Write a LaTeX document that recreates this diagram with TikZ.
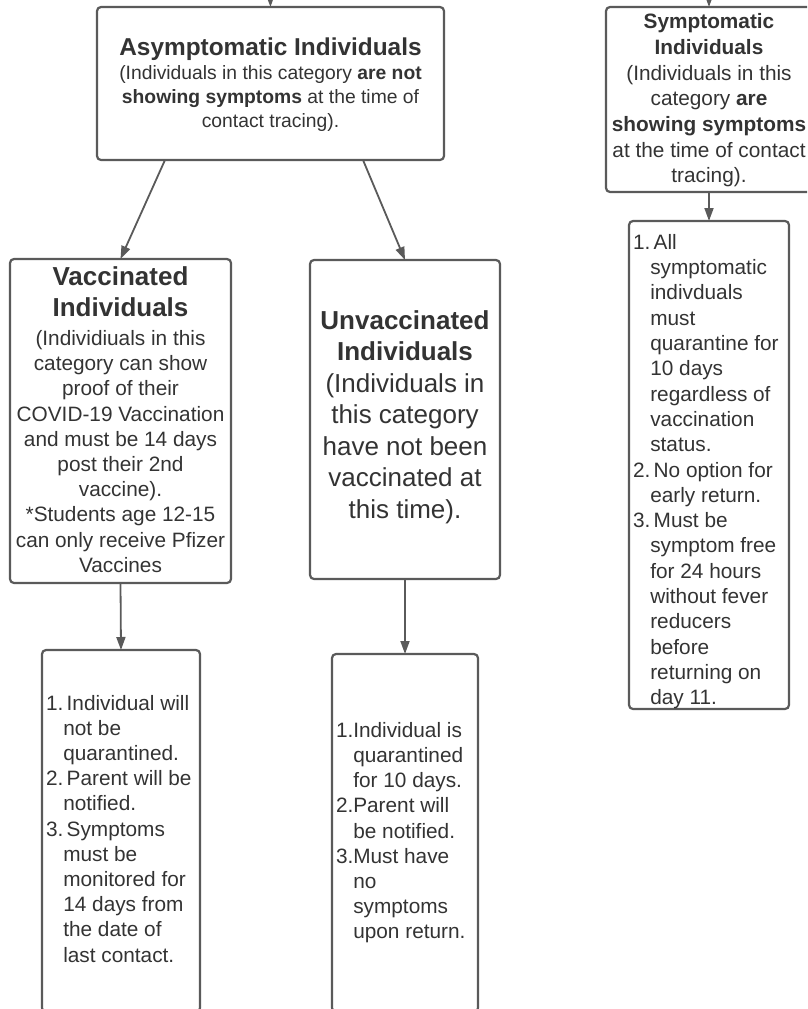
\documentclass[tikz,border=0pt]{standalone}
\usepackage{fontspec}
\setmainfont{Liberation Sans}
\usepackage{xcolor}
\usepackage{tikz}
\usetikzlibrary{arrows.meta}
\definecolor{lineGray}{HTML}{5A5A5A}
\definecolor{textGray}{HTML}{333333}
\newcommand{\plainSpace}{\spaceskip=\fontdimen2\font\xspaceskip=0pt\relax}
\newcommand{\titleSize}{\fontsize{26pt}{31pt}\selectfont\bfseries\plainSpace}
\newcommand{\bodySize}{\fontsize{20.8pt}{25.2pt}\selectfont\plainSpace}
\newcommand{\bottomPad}[1]{\par\kern#1\relax}
\newcommand{\numberWidth}{17.3pt}
\newcommand{\firstGap}{\hspace{3.4pt}}
\begin{document}
\begin{tikzpicture}[x=1pt, y=-1pt,
	box/.style={draw=lineGray, line width=2.2pt, rounded corners=4pt, text=textGray, inner sep=1pt, outer sep=0pt, align=center},
	listbox/.style={box, align=left, inner xsep=4pt, font=\bodySize},
	link/.style={draw=lineGray, line width=1.8pt, -{Triangle[length=13pt,width=9pt]}}
	]
	\useasboundingbox (0,0) rectangle (807,1009);
	\clip (0,0) rectangle (807,1009);

		% category boxes
		\node[box, minimum width=347pt, minimum height=153pt, text width=343pt] (asym) at (270.5,83.5) {{\fontsize{24.4pt}{29pt}\selectfont\bfseries\plainSpace Asymptomatic Individuals\par}\fontsize{19.3pt}{24pt}\selectfont\plainSpace (Individuals in this category \textbf{are not}\\ \textbf{showing symptoms} at the time of\\ contact tracing).\bottomPad{-2.6pt}};
		\node[box, minimum width=206pt, minimum height=185pt, text width=202pt, font=\fontsize{20.8pt}{25.7pt}\selectfont] (sym) at (709,99.5) {\plainSpace\textbf{Symptomatic}\\ \textbf{Individuals}\\ (Individuals in this\\ category \textbf{are}\\ \textbf{showing symptoms}\\ at the time of contact\\ tracing).\bottomPad{-2pt}};
		\node[box, minimum width=221pt, minimum height=324pt, text width=217pt] (vac) at (120.5,421) {{\titleSize Vaccinated\\ Individuals\par}\vspace{3.5pt}\bodySize (Individiuals in this\\ category can show\\ proof of their\\ COVID-19 Vaccination\\ and must be 14 days\\ post their 2nd\\ vaccine).\\ {*}Students age 12-15\\ can only receive Pfizer\\ Vaccines\bottomPad{2.6pt}};
		\node[box, minimum width=190pt, minimum height=319pt, text width=186pt, font=\fontsize{26pt}{31.5pt}\selectfont] (unvac) at (405,419.5) {\plainSpace\textbf{Unvaccinated}\\ \textbf{Individuals}\\ (Individuals in\\ this category\\ have not been\\ vaccinated at\\ this time).\bottomPad{5pt}};

		% rule lists
		\node[listbox, minimum width=158pt, minimum height=362pt, text width=150pt] (vacRules) at (121,831) {\plainSpace\begin{tabular}{@{}p{\numberWidth}@{}l@{}}
			1. & \firstGap Individual will\\
			& not be\\
			& quarantined.\\
			2. & \firstGap Parent will be\\
			& notified.\\
			3. & \firstGap Symptoms\\
			& must be\\
			& monitored for\\
			& 14 days from\\
			& the date of\\
			& last contact.
		\end{tabular}};
		\node[listbox, minimum width=146pt, minimum height=358pt, text width=138pt] (unvacRules) at (405,833) {\plainSpace\begin{tabular}{@{}p{\numberWidth}@{}l@{}}
			1. & Individual is\\
			& quarantined\\
			& for 10 days.\\
			2. & Parent will\\
			& be notified.\\
			3. & Must have\\
			& no\\
			& symptoms\\
			& upon return.
		\end{tabular}};
		\node[listbox, minimum width=160pt, minimum height=488pt, text width=152pt, font=\fontsize{20.8pt}{25.3pt}\selectfont] (symRules) at (709,465) {\plainSpace\begin{tabular}{@{}p{\numberWidth}@{}l@{}}
			1. & \firstGap All\\
			& symptomatic\\
			& indivduals\\
			& must\\
			& quarantine for\\
			& 10 days\\
			& regardless of\\
			& vaccination\\
			& status.\\
			2. & \firstGap No option for\\
			& early return.\\
			3. & \firstGap Must be\\
			& symptom free\\
			& for 24 hours\\
			& without fever\\
			& reducers\\
			& before\\
			& returning on\\
			& day 11.
		\end{tabular}\bottomPad{-14pt}};

		% connectors
		\coordinate (asymIn) at (270,-20);
		\coordinate (symIn) at (709,-20);
		\draw[link] (asymIn) -- (asym.north);
		\draw[link] (symIn) -- (sym.north);
		\draw[link] ([xshift=68pt]asym.south west) -- (vac.north);
		\draw[link] ([xshift=-81pt]asym.south east) -- (unvac.north);
		\draw[link] (vac.south) -- (vacRules.north);
		\draw[link] (unvac.south) -- (unvacRules.north);
		\draw[link] (sym.south) -- (symRules.north);
\end{tikzpicture}
\end{document}
